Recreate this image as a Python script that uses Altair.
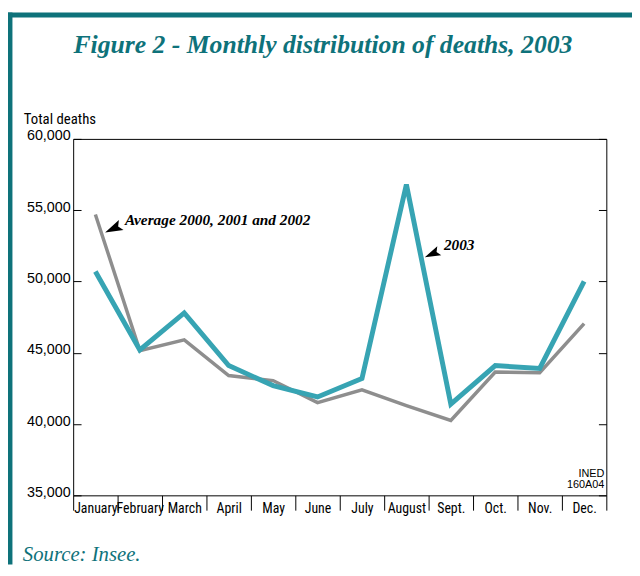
import altair as alt
import pandas as pd

# ---------------- data ----------------
months = ["January", "February", "March", "April", "May", "June",
          "July", "August", "Sept.", "Oct.", "Nov.", "Dec."]
deaths_2003 = [50700, 45200, 47800, 44100, 42700, 41900,
               43200, 56800, 41400, 44100, 43900, 50000]
deaths_avg = [54700, 45150, 45900, 43400, 43050, 41500,
              42400, 41300, 40250, 43650, 43600, 47050]
y_ticks = [35000, 40000, 45000, 50000, 55000, 60000]

ann_labels = ["Average 2000, 2001 and 2002", "2003"]
ann_months = ["January", "August"]
ann_values = [54320, 52520]
ann_dx = [30, 38]

arrow_months = ["January", "August"]
arrow_values = [53700, 51930]
arrow_dx = [18, 26]
arrow_angles = [245, 246]
arrow_sizes = [324, 256]

# ---------------- styles ----------------
W, H = 540, 361
TEAL_DARK = "#0e727a"
TEAL_LINE = "#37a4b3"
GRAY_LINE = "#8e8e8e"
NARROW = "'Liberation Sans Narrow', 'Roboto Condensed', 'DejaVu Sans Condensed', sans-serif"
SANS = "'Liberation Sans', Arial, sans-serif"
SERIF = "'Liberation Serif', 'DejaVu Serif', serif"

df_2003 = pd.DataFrame({"month": months, "deaths": deaths_2003})
df_avg = pd.DataFrame({"month": months, "deaths": deaths_avg})
df_ann = pd.DataFrame({"label": ann_labels, "month": ann_months,
                       "value": ann_values})
df_arrow = pd.DataFrame({"month": arrow_months, "value": arrow_values,
                         "angle": arrow_angles, "size": arrow_sizes})
one = pd.DataFrame({"a": [0]})

x_scale = alt.Scale(type="band", domain=months, paddingInner=0, paddingOuter=0)
x_axis = alt.Axis(title=None, tickBand="extent", tickSize=15, tickColor="black",
                  tickWidth=1, domain=False, grid=False, labelAngle=0,
                  labelFont=NARROW, labelFontSize=14, labelColor="black",
                  labelPadding=-9, labelOverlap=False)
y_scale = alt.Scale(domain=[35000, 60000], nice=False, zero=False)


def xenc(field="month"):
    return alt.X(f"{field}:N", scale=x_scale, axis=x_axis, bandPosition=0.5)


left_axis = alt.Axis(values=y_ticks, format=",.0f", orient="left", offset=-8,
                     tickSize=8, tickColor="black", domain=False, grid=False,
                     title=None, labelFont=SANS, labelFontSize=14.5,
                     labelColor="black", labelPadding=3,
                     labelBaseline="alphabetic", labelOffset=1)
right_axis = alt.Axis(values=y_ticks, orient="right", offset=-8, tickSize=8,
                      tickColor="black", domain=False, grid=False, title=None,
                      labels=False)

avg_line = alt.Chart(df_avg).mark_line(color=GRAY_LINE, strokeWidth=3.5).encode(
    x=xenc(),
    y=alt.Y("deaths:Q", scale=y_scale, axis=left_axis),
)
line_2003 = alt.Chart(df_2003).mark_line(color=TEAL_LINE, strokeWidth=5).encode(
    x=xenc(),
    y=alt.Y("deaths:Q", scale=y_scale, axis=right_axis),
)

ann_layers = []
for i in range(len(ann_labels)):
    ann_layers.append(
        alt.Chart(df_ann.iloc[[i]]).mark_text(
            font=SERIF, fontStyle="italic", fontWeight="bold", fontSize=15.5,
            align="left", baseline="middle", color="black", dx=ann_dx[i]
        ).encode(
            x=xenc(),
            y=alt.Y("value:Q", scale=y_scale, axis=None),
            text="label:N",
        )
    )
arrow_layers = []
for i in range(len(arrow_months)):
    arrow_layers.append(
        alt.Chart(df_arrow.iloc[[i]]).mark_point(
            shape="M0,-1L0.62,1L0,0.62L-0.62,1Z", filled=True, color="black",
            opacity=1, xOffset=arrow_dx[i]
        ).encode(
            x=xenc(),
            y=alt.Y("value:Q", scale=y_scale, axis=None),
            angle=alt.Angle("angle:Q", scale=None),
            size=alt.Size("size:Q", scale=None),
        )
    )

# ---------------- decorations (frame, titles, notes) ----------------
top_bar = alt.Chart(one).mark_rule(color=TEAL_DARK, strokeWidth=5).encode(
    x=alt.value(-66), x2=alt.value(566), y=alt.value(-125.5))
left_bar = alt.Chart(one).mark_rule(color=TEAL_DARK, strokeWidth=5).encode(
    x=alt.value(-64), y=alt.value(-128), y2=alt.value(431))

title = alt.Chart(one).mark_text(
    text="Figure 2 - Monthly distribution of deaths, 2003", font=SERIF,
    fontStyle="italic", fontWeight="bold", fontSize=26, color=TEAL_DARK,
    align="center", baseline="alphabetic"
).encode(x=alt.value(253), y=alt.value(-87))

ytitle = alt.Chart(one).mark_text(
    text="Total deaths", font=NARROW, fontSize=15, color="black",
    align="left", baseline="alphabetic"
).encode(x=alt.value(-50), y=alt.value(-15))

source = alt.Chart(one).mark_text(
    text="Source: Insee.", font=SERIF, fontStyle="italic", fontSize=21,
    color=TEAL_DARK, align="left", baseline="alphabetic"
).encode(x=alt.value(-51), y=alt.value(427))

ined = alt.Chart(one).mark_text(
    text=["INED", "160A04"], font=SANS, fontSize=11, color="black",
    align="right", baseline="alphabetic", lineHeight=12
).encode(x=alt.value(538), y=alt.value(342))

chart = alt.layer(
    avg_line, line_2003, *arrow_layers, *ann_layers,
    top_bar, left_bar, title, ytitle, source, ined
).resolve_axis(y="independent").properties(
    width=W, height=H,
    autosize=alt.AutoSizeParams(type="none"),
    padding={"left": 66, "top": 129, "right": 26, "bottom": 70},
).configure_view(stroke="black", strokeWidth=1)

chart.save("out.html", embed_options={"renderer": "svg", "actions": False})
